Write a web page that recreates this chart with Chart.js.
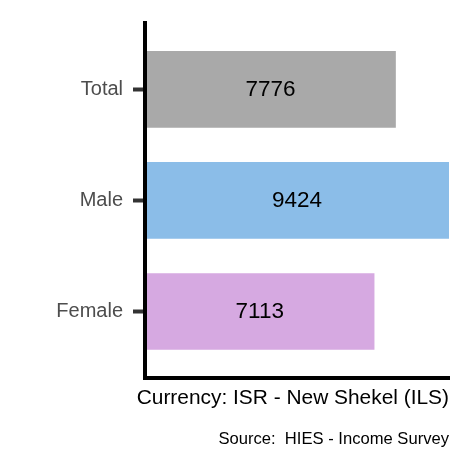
<!DOCTYPE html>
<html>
<head>
<meta charset="utf-8">
<script src="https://cdn.jsdelivr.net/npm/chart.js@4/dist/chart.umd.min.js"></script>
<style>
  html, body { margin: 0; padding: 0; background: #fff; }
  #wrap { width: 472px; height: 472px; }
</style>
</head>
<body>
<div id="wrap"><canvas id="c" width="472" height="472"></canvas></div>
<script>
const categories = ["Total", "Male", "Female"];
const values = [7776, 9424, 7113];
const barColors = ["#A9A9A9", "#8BBDE8", "#D6A9E1"];
const axisTitle = "Currency: ISR - New Shekel (ILS)";
const caption = "Source:  HIES - Income Survey";

const FONT = "'Liberation Sans', Arial, Helvetica, sans-serif";

const valueLabels = {
  id: 'valueLabels',
  afterDatasetsDraw(chart) {
    const ctx = chart.ctx;
    const meta = chart.getDatasetMeta(0);
    ctx.save();
    ctx.font = "22.5px " + FONT;
    ctx.fillStyle = "#000";
    ctx.textAlign = "center";
    ctx.textBaseline = "middle";
    meta.data.forEach((el, i) => {
      const p = el.getProps(['x', 'y', 'base'], true);
      ctx.fillText(String(values[i]), (p.x + p.base) / 2, p.y);
    });
    ctx.restore();
  }
};

// x-axis title drawn without Chart.js's maxWidth squeezing (it is wider than the panel)
const xAxisTitle = {
  id: 'xAxisTitle',
  afterDraw(chart) {
    const ctx = chart.ctx;
    const xs = chart.scales.x;
    ctx.save();
    ctx.font = "20.9px " + FONT;
    ctx.fillStyle = "#000";
    ctx.textAlign = "right";
    ctx.textBaseline = "middle";
    ctx.fillText(axisTitle, xs.right, xs.top + 20);
    ctx.restore();
  }
};

new Chart(document.getElementById('c'), {
  type: 'bar',
  data: {
    datasets: [{
      data: categories.map((c, i) => ({ x: values[i], y: i + 1 })),
      backgroundColor: barColors,
      borderWidth: 0,
      categoryPercentage: 1,
      barPercentage: 0.69
    }]
  },
  options: {
    indexAxis: 'y',
    responsive: false,
    animation: false,
    layout: { padding: { top: 22.7, right: 23, left: 0, bottom: 0 } },
    plugins: {
      legend: { display: false },
      tooltip: { enabled: false },
      title: {
        display: true,
        text: caption,
        position: 'bottom',
        align: 'end',
        color: '#000',
        font: { family: FONT, size: 16.6, weight: 'normal' },
        padding: { top: 0, bottom: 23 }
      }
    },
    scales: {
      x: {
        type: 'linear',
        position: 'bottom',
        offset: false,
        min: 0,
        max: Math.max(...values),
        grid: { display: false, drawTicks: false, offset: false },
        border: { display: true, color: '#000', width: 4, z: 1 },
        ticks: { display: false },
        title: { display: false },
        afterFit(scale) { scale.height = 51; }
      },
      y: {
        type: 'linear',
        position: 'left',
        offset: false,
        reverse: true,
        min: 0.4,
        max: categories.length + 0.6,
        afterBuildTicks(scale) {
          scale.ticks = categories.map((c, i) => ({ value: i + 1 }));
        },
        afterFit(scale) { scale.width = 145; },
        grid: {
          display: true,
          offset: false,
          drawOnChartArea: false,
          drawTicks: true,
          tickLength: 12,
          tickWidth: 4,
          tickColor: '#333333'
        },
        border: { display: true, color: '#000', width: 4, z: 1 },
        ticks: {
          color: '#4D4D4D',
          padding: 10,
          font: { family: FONT, size: 20 },
          callback: (v) => categories[Math.round(v) - 1] || ''
        }
      }
    }
  },
  plugins: [valueLabels, xAxisTitle]
});
</script>
</body>
</html>
